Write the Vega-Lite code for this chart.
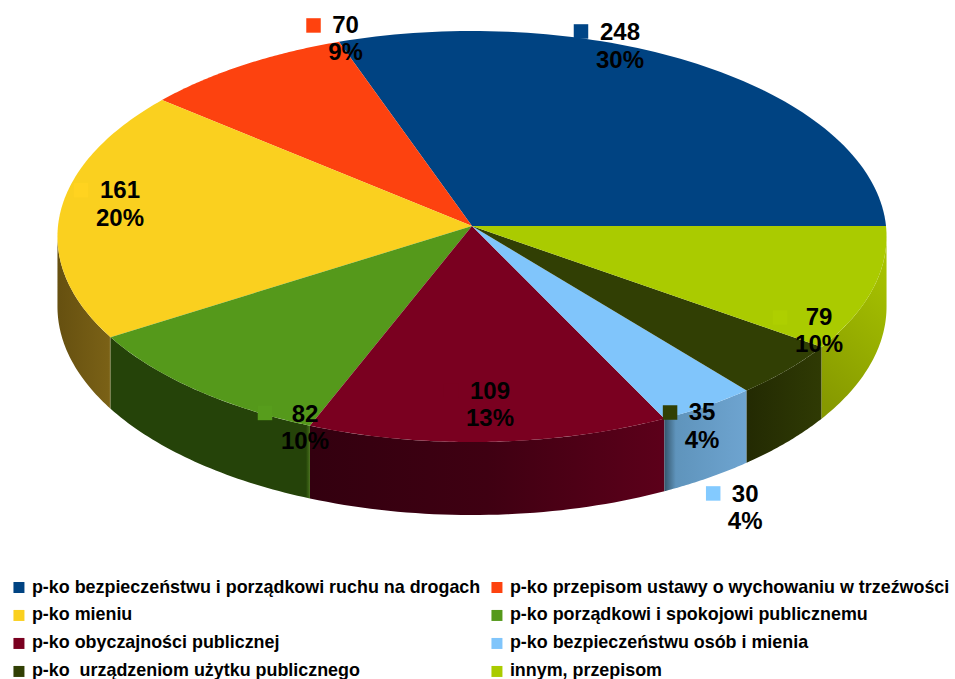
{
"$schema":"https://vega.github.io/schema/vega-lite/v6.json",
"width":955,"height":679,"padding":0,
"autosize":{"type":"none"},
"background":"white",
"config":{"view":{"stroke":null}},
"data":{"values":[
{"idx":1,"name":"p-ko bezpieczeństwu i porządkowi ruchu na drogach","value":248,"pct":30},
{"idx":2,"name":"p-ko przepisom ustawy o wychowaniu w trzeźwości","value":70,"pct":9},
{"idx":3,"name":"p-ko mieniu","value":161,"pct":20},
{"idx":4,"name":"p-ko porządkowi i spokojowi publicznemu","value":82,"pct":10},
{"idx":5,"name":"p-ko obyczajności publicznej","value":109,"pct":13},
{"idx":6,"name":"p-ko bezpieczeństwu osób i mienia","value":30,"pct":4},
{"idx":7,"name":"p-ko \u00a0urządzeniom użytku publicznego","value":35,"pct":4},
{"idx":8,"name":"innym, przepisom","value":79,"pct":10}
]},
"transform":[
{"joinaggregate":[{"op":"sum","field":"value","as":"total"}]},
{"window":[{"op":"sum","field":"value","as":"cum"}],"sort":[{"field":"idx","order":"ascending"}],"ignorePeers":true,"frame":[null,0]},
{"calculate":"(datum.cum-datum.value)/datum.total*2*PI","as":"phi0"},
{"calculate":"datum.cum/datum.total*2*PI","as":"phi1"},
{"calculate":"(datum.phi0+datum.phi1)/2","as":"mid"},
{"calculate":"472+290.5*cos(datum.mid)","as":"lx"},
{"calculate":"226-142.8*sin(datum.mid)","as":"ly"},
{"calculate":"datum.value+'\\n'+datum.pct+'%'","as":"lbl"}
],
"layer":[
{"transform":[{"filter":"datum.idx==3"},{"calculate":"max(datum.phi0,3.194)","as":"a"},{"calculate":"min(datum.phi1,6.232)","as":"b"},{"calculate":"sequence(0,82)","as":"st"},{"flatten":["st"]},{"calculate":"datum.st<=40?datum.st:81-datum.st","as":"u"},{"calculate":"datum.a+datum.u/40*(datum.b-datum.a)","as":"p"},{"calculate":"1/(1+0.0511*sin(datum.p))","as":"s"},{"calculate":"472+414*cos(datum.p)*datum.s","as":"x"},{"calculate":"226-205*sin(datum.p)*datum.s+(datum.st<=40?0:70-3*sin(datum.p))","as":"y"}],
"mark":{"type":"line","filled":true,"color":{"gradient":"linear","x1":0,"y1":0,"x2":1,"y2":0,"stops":[{"offset":0,"color":"#665010"},{"offset":0.96,"color":"#7a6116"},{"offset":1,"color":"#8a7530"}]}},
"encoding":{"x":{"field":"x","type":"quantitative","scale":{"domain":[0,955],"nice":false},"axis":null},"y":{"field":"y","type":"quantitative","scale":{"domain":[679,0],"nice":false},"axis":null},"order":{"field":"st"}}},
{"transform":[{"filter":"datum.idx==4"},{"calculate":"max(datum.phi0,3.194)","as":"a"},{"calculate":"min(datum.phi1,6.232)","as":"b"},{"calculate":"sequence(0,82)","as":"st"},{"flatten":["st"]},{"calculate":"datum.st<=40?datum.st:81-datum.st","as":"u"},{"calculate":"datum.a+datum.u/40*(datum.b-datum.a)","as":"p"},{"calculate":"1/(1+0.0511*sin(datum.p))","as":"s"},{"calculate":"472+414*cos(datum.p)*datum.s","as":"x"},{"calculate":"226-205*sin(datum.p)*datum.s+(datum.st<=40?0:70-3*sin(datum.p))","as":"y"}],
"mark":{"type":"line","filled":true,"color":{"gradient":"linear","x1":0,"y1":0,"x2":1,"y2":0,"stops":[{"offset":0,"color":"#254309"},{"offset":0.98,"color":"#254309"},{"offset":1,"color":"#45701a"}]}},
"encoding":{"x":{"field":"x","type":"quantitative","axis":null},"y":{"field":"y","type":"quantitative","axis":null},"order":{"field":"st"}}},
{"transform":[{"filter":"datum.idx==5"},{"calculate":"max(datum.phi0,3.194)","as":"a"},{"calculate":"min(datum.phi1,6.232)","as":"b"},{"calculate":"sequence(0,82)","as":"st"},{"flatten":["st"]},{"calculate":"datum.st<=40?datum.st:81-datum.st","as":"u"},{"calculate":"datum.a+datum.u/40*(datum.b-datum.a)","as":"p"},{"calculate":"1/(1+0.0511*sin(datum.p))","as":"s"},{"calculate":"472+414*cos(datum.p)*datum.s","as":"x"},{"calculate":"226-205*sin(datum.p)*datum.s+(datum.st<=40?0:70-3*sin(datum.p))","as":"y"}],
"mark":{"type":"line","filled":true,"color":{"gradient":"linear","x1":0,"y1":0,"x2":1,"y2":0,"stops":[{"offset":0,"color":"#33000f"},{"offset":0.5,"color":"#3f0012"},{"offset":1,"color":"#5c001a"}]}},
"encoding":{"x":{"field":"x","type":"quantitative","axis":null},"y":{"field":"y","type":"quantitative","axis":null},"order":{"field":"st"}}},
{"transform":[{"filter":"datum.idx==6"},{"calculate":"max(datum.phi0,3.194)","as":"a"},{"calculate":"min(datum.phi1,6.232)","as":"b"},{"calculate":"sequence(0,82)","as":"st"},{"flatten":["st"]},{"calculate":"datum.st<=40?datum.st:81-datum.st","as":"u"},{"calculate":"datum.a+datum.u/40*(datum.b-datum.a)","as":"p"},{"calculate":"1/(1+0.0511*sin(datum.p))","as":"s"},{"calculate":"472+414*cos(datum.p)*datum.s","as":"x"},{"calculate":"226-205*sin(datum.p)*datum.s+(datum.st<=40?0:70-3*sin(datum.p))","as":"y"}],
"mark":{"type":"line","filled":true,"color":{"gradient":"linear","x1":0,"y1":0,"x2":1,"y2":0,"stops":[{"offset":0,"color":"#34566b"},{"offset":0.14,"color":"#5f94bc"},{"offset":1,"color":"#6ea4d0"}]}},
"encoding":{"x":{"field":"x","type":"quantitative","axis":null},"y":{"field":"y","type":"quantitative","axis":null},"order":{"field":"st"}}},
{"transform":[{"filter":"datum.idx==7"},{"calculate":"max(datum.phi0,3.194)","as":"a"},{"calculate":"min(datum.phi1,6.232)","as":"b"},{"calculate":"sequence(0,82)","as":"st"},{"flatten":["st"]},{"calculate":"datum.st<=40?datum.st:81-datum.st","as":"u"},{"calculate":"datum.a+datum.u/40*(datum.b-datum.a)","as":"p"},{"calculate":"1/(1+0.0511*sin(datum.p))","as":"s"},{"calculate":"472+414*cos(datum.p)*datum.s","as":"x"},{"calculate":"226-205*sin(datum.p)*datum.s+(datum.st<=40?0:70-3*sin(datum.p))","as":"y"}],
"mark":{"type":"line","filled":true,"color":{"gradient":"linear","x1":0,"y1":0,"x2":1,"y2":0,"stops":[{"offset":0,"color":"#232a02"},{"offset":1,"color":"#2f3a04"}]}},
"encoding":{"x":{"field":"x","type":"quantitative","axis":null},"y":{"field":"y","type":"quantitative","axis":null},"order":{"field":"st"}}},
{"transform":[{"filter":"datum.idx==8"},{"calculate":"max(datum.phi0,3.194)","as":"a"},{"calculate":"min(datum.phi1,6.232)","as":"b"},{"calculate":"sequence(0,82)","as":"st"},{"flatten":["st"]},{"calculate":"datum.st<=40?datum.st:81-datum.st","as":"u"},{"calculate":"datum.a+datum.u/40*(datum.b-datum.a)","as":"p"},{"calculate":"1/(1+0.0511*sin(datum.p))","as":"s"},{"calculate":"472+414*cos(datum.p)*datum.s","as":"x"},{"calculate":"226-205*sin(datum.p)*datum.s+(datum.st<=40?0:70-3*sin(datum.p))","as":"y"}],
"mark":{"type":"line","filled":true,"color":{"gradient":"linear","x1":0.6,"y1":0,"x2":0.3,"y2":1,"stops":[{"offset":0,"color":"#a8c400"},{"offset":1,"color":"#869900"}]}},
"encoding":{"x":{"field":"x","type":"quantitative","axis":null},"y":{"field":"y","type":"quantitative","axis":null},"order":{"field":"st"}}},
{"transform":[{"calculate":"sequence(0,81)","as":"st"},{"flatten":["st"]},{"calculate":"datum.phi0+(datum.st-1)/79*(datum.phi1-datum.phi0)","as":"p"},{"calculate":"1/(1+0.0511*sin(datum.p))","as":"s"},{"calculate":"datum.st==0?472:472+414*cos(datum.p)*datum.s","as":"x"},{"calculate":"datum.st==0?226:226-205*sin(datum.p)*datum.s","as":"y"}],
"mark":{"type":"line","filled":true,"interpolate":"linear"},
"encoding":{"x":{"field":"x","type":"quantitative","axis":null},"y":{"field":"y","type":"quantitative","axis":null},"order":{"field":"st"},
"fill":{"field":"name","type":"nominal","sort":null,"scale":{"domain":["p-ko bezpieczeństwu i porządkowi ruchu na drogach","p-ko przepisom ustawy o wychowaniu w trzeźwości","p-ko mieniu","p-ko porządkowi i spokojowi publicznemu","p-ko obyczajności publicznej","p-ko bezpieczeństwu osób i mienia","p-ko \u00a0urządzeniom użytku publicznego","innym, przepisom"],"range":["#004382","#fd420f","#fad01f","#55991b","#7a0020","#80c5fb","#313f04","#aacb00"]},
"legend":{"title":null,"orient":"none","legendX":10,"legendY":578.5,"columns":2,"direction":"horizontal","symbolType":"square","symbolSize":121,"symbolStrokeWidth":0,"labelFont":"Liberation Sans","labelFontWeight":"bold","labelFontSize":17.9,"labelColor":"#000000","labelOffset":4,"labelLimit":600,"rowPadding":9,"columnPadding":7,"padding":0,"gridAlign":"each"}}}},
{"transform":[{"filter":"datum.idx==1"}],"mark":{"type":"square","size":210,"xOffset":-58.3,"yOffset":-77.8,"color":"#004586","opacity":1},"encoding":{"x":{"field":"lx","type":"quantitative","axis":null},"y":{"field":"ly","type":"quantitative","axis":null}}},
{"transform":[{"filter":"datum.idx==2"}],"mark":{"type":"square","size":210,"xOffset":8.8,"yOffset":-83.8,"color":"#ff420e","opacity":1},"encoding":{"x":{"field":"lx","type":"quantitative","axis":null},"y":{"field":"ly","type":"quantitative","axis":null}}},
{"transform":[{"filter":"datum.idx==3"}],"mark":{"type":"square","size":210,"xOffset":-101.1,"yOffset":-26.5,"color":"#ffd320","opacity":1},"encoding":{"x":{"field":"lx","type":"quantitative","axis":null},"y":{"field":"ly","type":"quantitative","axis":null}}},
{"transform":[{"filter":"datum.idx==4"}],"mark":{"type":"square","size":210,"xOffset":-20.2,"yOffset":77.6,"color":"#579d1c","opacity":1},"encoding":{"x":{"field":"lx","type":"quantitative","axis":null},"y":{"field":"ly","type":"quantitative","axis":null}}},
{"transform":[{"filter":"datum.idx==5"}],"mark":{"type":"square","size":210,"xOffset":-32,"yOffset":22,"color":"#7a0020","opacity":1},"encoding":{"x":{"field":"lx","type":"quantitative","axis":null},"y":{"field":"ly","type":"quantitative","axis":null}}},
{"transform":[{"filter":"datum.idx==6"}],"mark":{"type":"square","size":210,"xOffset":83.2,"yOffset":147.6,"color":"#83caff","opacity":1},"encoding":{"x":{"field":"lx","type":"quantitative","axis":null},"y":{"field":"ly","type":"quantitative","axis":null}}},
{"transform":[{"filter":"datum.idx==7"}],"mark":{"type":"square","size":210,"xOffset":-15.5,"yOffset":89.7,"color":"#314004","opacity":1},"encoding":{"x":{"field":"lx","type":"quantitative","axis":null},"y":{"field":"ly","type":"quantitative","axis":null}}},
{"transform":[{"filter":"datum.idx==8"}],"mark":{"type":"square","size":210,"xOffset":31,"yOffset":48.6,"color":"#aecf00","opacity":1},"encoding":{"x":{"field":"lx","type":"quantitative","axis":null},"y":{"field":"ly","type":"quantitative","axis":null}}},
{"transform":[{"filter":"datum.idx==1"}],"mark":{"type":"text","dx":-19.3,"dy":-68.8,"baseline":"alphabetic","align":"center","lineBreak":"\n","lineHeight":27.5,"font":"Liberation Sans","fontWeight":"bold","fontSize":24,"color":"#000000"},"encoding":{"x":{"field":"lx","type":"quantitative","axis":null},"y":{"field":"ly","type":"quantitative","axis":null},"text":{"field":"lbl"}}},
{"transform":[{"filter":"datum.idx==2"}],"mark":{"type":"text","dx":40.8,"dy":-76.3,"baseline":"alphabetic","align":"center","lineBreak":"\n","lineHeight":27.5,"font":"Liberation Sans","fontWeight":"bold","fontSize":24,"color":"#000000"},"encoding":{"x":{"field":"lx","type":"quantitative","axis":null},"y":{"field":"ly","type":"quantitative","axis":null},"text":{"field":"lbl"}}},
{"transform":[{"filter":"datum.idx==3"}],"mark":{"type":"text","dx":-62.1,"dy":-18.5,"baseline":"alphabetic","align":"center","lineBreak":"\n","lineHeight":27.5,"font":"Liberation Sans","fontWeight":"bold","fontSize":24,"color":"#000000"},"encoding":{"x":{"field":"lx","type":"quantitative","axis":null},"y":{"field":"ly","type":"quantitative","axis":null},"text":{"field":"lbl"}}},
{"transform":[{"filter":"datum.idx==4"}],"mark":{"type":"text","dx":19.8,"dy":86.3,"baseline":"alphabetic","align":"center","lineBreak":"\n","lineHeight":27.5,"font":"Liberation Sans","fontWeight":"bold","fontSize":24,"color":"#000000"},"encoding":{"x":{"field":"lx","type":"quantitative","axis":null},"y":{"field":"ly","type":"quantitative","axis":null},"text":{"field":"lbl"}}},
{"transform":[{"filter":"datum.idx==5"}],"mark":{"type":"text","dx":6.8,"dy":30.3,"baseline":"alphabetic","align":"center","lineBreak":"\n","lineHeight":27.5,"font":"Liberation Sans","fontWeight":"bold","fontSize":24,"color":"#000000"},"encoding":{"x":{"field":"lx","type":"quantitative","axis":null},"y":{"field":"ly","type":"quantitative","axis":null},"text":{"field":"lbl"}}},
{"transform":[{"filter":"datum.idx==6"}],"mark":{"type":"text","dx":115.2,"dy":155.8,"baseline":"alphabetic","align":"center","lineBreak":"\n","lineHeight":27.5,"font":"Liberation Sans","fontWeight":"bold","fontSize":24,"color":"#000000"},"encoding":{"x":{"field":"lx","type":"quantitative","axis":null},"y":{"field":"ly","type":"quantitative","axis":null},"text":{"field":"lbl"}}},
{"transform":[{"filter":"datum.idx==7"}],"mark":{"type":"text","dx":16.5,"dy":97.2,"baseline":"alphabetic","align":"center","lineBreak":"\n","lineHeight":27.5,"font":"Liberation Sans","fontWeight":"bold","fontSize":24,"color":"#000000"},"encoding":{"x":{"field":"lx","type":"quantitative","axis":null},"y":{"field":"ly","type":"quantitative","axis":null},"text":{"field":"lbl"}}},
{"transform":[{"filter":"datum.idx==8"}],"mark":{"type":"text","dx":70,"dy":56.1,"baseline":"alphabetic","align":"center","lineBreak":"\n","lineHeight":27.5,"font":"Liberation Sans","fontWeight":"bold","fontSize":24,"color":"#000000"},"encoding":{"x":{"field":"lx","type":"quantitative","axis":null},"y":{"field":"ly","type":"quantitative","axis":null},"text":{"field":"lbl"}}}
]
}
